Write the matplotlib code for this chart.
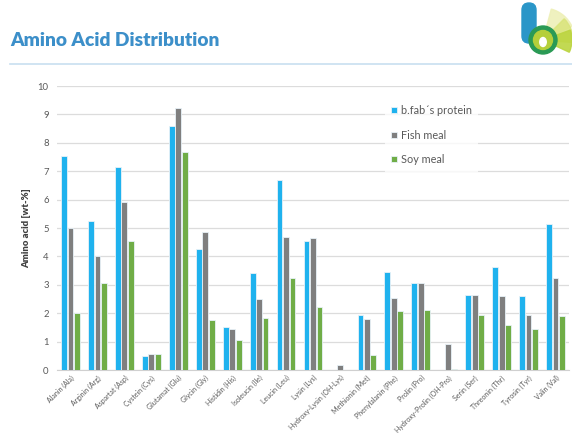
import matplotlib.pyplot as plt
import numpy as np
from matplotlib.patches import Circle, FancyBboxPatch, Ellipse, Wedge

plt.rcParams['font.family'] = ['Lato', 'DejaVu Sans']

acids = ["Alanin (Ala)", "Arginin (Arg)", "Aspartat (Asp)", "Cystein (Cys)",
         "Glutamat (Glu)", "Glycin (Gly)", "Histidin (His)", "Isoleucin (Ile)",
         "Leucin (Leu)", "Lysin (Lys)", "Hydroxy-Lysin (OH-Lys)",
         "Methionin (Met)", "Phenylalanin (Phe)", "Prolin (Pro)",
         "Hydroxy-Prolin (OH-Pro)", "Serin (Ser)", "Threonin (Thr)",
         "Tyrosin (Tyr)", "Valin (Val)"]
bfab = [7.55, 5.25, 7.15, 0.48, 8.6, 4.25, 1.53, 3.4, 6.7, 4.55, 0.0,
        1.95, 3.45, 3.08, 0.0, 2.65, 3.63, 2.62, 5.15]
fish = [5.0, 4.0, 5.9, 0.57, 9.22, 4.85, 1.43, 2.5, 4.7, 4.65, 0.18,
        1.8, 2.52, 3.05, 0.93, 2.65, 2.6, 1.93, 3.25]
soy = [2.0, 3.05, 4.55, 0.58, 7.67, 1.77, 1.07, 1.83, 3.25, 2.22, 0.0,
       0.53, 2.08, 2.12, 0.03, 1.95, 1.58, 1.45, 1.9]
series = ["b.fab´s protein", "Fish meal", "Soy meal"]
colors = ["#1fb2ee", "#7f7f7f", "#70ad47"]

fig = plt.figure(figsize=(5.72, 4.33), dpi=100)
ax = fig.add_axes([57 / 572, 1 - 370 / 433, 512 / 572, 284 / 433])

x = np.arange(len(acids))
w = 0.215
for i, (vals, c, name) in enumerate(zip([bfab, fish, soy], colors, series)):
    ax.bar(x + (i - 1) * 0.24, vals, w, color=c, edgecolor="#e8f2f8",
           linewidth=0.6, label=name, zorder=3)

ax.set_xlim(-0.5, len(acids) - 0.5)
ax.set_ylim(0, 10)
ax.set_yticks(range(0, 11))
ax.yaxis.grid(True, color="#dcdcdc", linewidth=0.9, zorder=0)
ax.tick_params(axis="y", length=0, labelsize=6.8, labelcolor="#595959", pad=6)
ax.tick_params(axis="x", length=0, labelsize=5.0, labelcolor="#595959", pad=3)
ax.set_xticks(x)
ax.set_xticklabels(acids, rotation=45, ha="right", rotation_mode="anchor")
for s in ["top", "right", "left"]:
    ax.spines[s].set_visible(False)
ax.spines["bottom"].set_color("#d0d0d0")
ax.set_ylabel("Amino acid [wt-%]", fontsize=6.8, fontweight="heavy",
              color="#404040", labelpad=5)

leg = ax.legend(loc="upper left", bbox_to_anchor=(0.63, 0.975), fontsize=7.8,
                handlelength=0.5, handleheight=0.5, handletextpad=0.35,
                labelspacing=1.25, borderpad=0.6, frameon=True, fancybox=False)
leg.get_frame().set_facecolor("white")
leg.get_frame().set_edgecolor("none")
for t in leg.get_texts():
    t.set_color("#595959")

# header
fig.text(10 / 572, 1 - 41 / 433, "Amino Acid Distribution", fontsize=13.8,
         fontweight="heavy", color="#3c8fc9", va="center")
fig.add_artist(plt.Line2D([10 / 572, 1], [1 - 64 / 433] * 2,
                          color="#c8dff0", linewidth=1.2))

# logo
lax = fig.add_axes([515 / 572, 1 - 60 / 433, 57 / 572, 60 / 433])
lax.set_xlim(0, 57)
lax.set_ylim(60, 0)
lax.set_aspect("equal")
lax.axis("off")
lax.add_patch(Wedge((28, 40), 32, -75, -25, color="#eef0b8", alpha=0.9))
lax.add_patch(Wedge((28, 40), 30, -45, 5, color="#d9e47a", alpha=0.85))
lax.add_patch(Wedge((28, 40), 29, -20, 25, color="#bcd540", alpha=0.9))
lax.add_patch(FancyBboxPatch((7, 3), 14, 40, boxstyle="round,pad=0,rounding_size=7",
                             color="#2a96c8"))
lax.add_patch(Circle((28, 40), 14, color="#2a9a55"))
lax.add_patch(Circle((28, 40), 9.5, color="#b5cf3a"))
lax.add_patch(Ellipse((28, 42), 6.5, 9, color="white"))

fig.savefig("out.png", dpi=100)
